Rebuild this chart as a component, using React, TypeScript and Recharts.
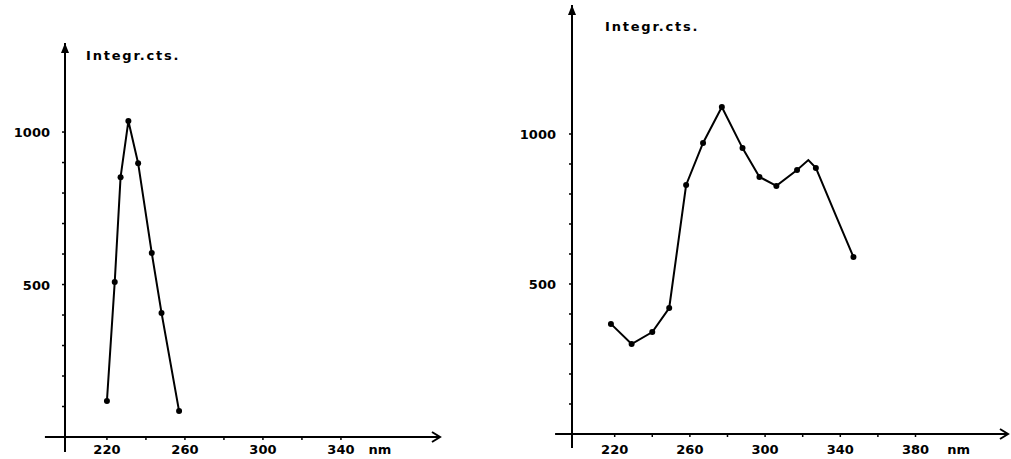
import React from 'react';
import { LineChart, Line, XAxis, YAxis, ReferenceLine, ReferenceDot } from 'recharts';

// left panel: excitation scan
const leftNm = [220, 224, 227, 231, 236, 243, 248, 257];
const leftCts = [118, 508, 852, 1036, 898, 603, 407, 85];
const leftXTicks = [220, 240, 260, 280, 300, 320, 340, 360];
const leftXLabels = [220, 260, 300, 340];
const leftUnitAt = 360;

// right panel: emission scan
const rightNm = [218, 229, 240, 249, 258, 267, 277, 288, 297, 306, 317, 323, 327, 338, 347];
const rightCts = [367, 300, 340, 420, 830, 970, 1090, 953, 857, 827, 880, 913, 887, 723, 590];
const rightDot = [1, 1, 1, 1, 1, 1, 1, 1, 1, 1, 1, 0, 1, 0, 1];
const rightXTicks = [220, 240, 260, 280, 300, 320, 340, 360, 380, 403];
const rightXLabels = [220, 260, 300, 340, 380];
const rightUnitAt = 403;

const yTicks = [100, 200, 300, 400, 500, 600, 700, 800, 900, 1000];
const yLabels = [500, 1000];

const FONT = '"DejaVu Sans", sans-serif';

const makeXTick = (labels: number[], unitAt: number, off: number) => (p: any) => {
  const v = p.payload.value;
  const txt = v === unitAt ? 'nm' : labels.includes(v) ? String(v) : '';
  return (
    <g>
      {v !== unitAt && <line x1={p.x} x2={p.x} y1={p.y - 1} y2={p.y + 3} stroke="#000" strokeWidth={1.5} />}
      <text x={p.x} y={p.y + off} textAnchor="middle" fontFamily={FONT} fontWeight="bold" fontSize={13} fill="#000">
        {txt}
      </text>
    </g>
  );
};

const makeYTick = (gap: number) => (p: any) => {
  const v = p.payload.value;
  return (
    <g>
      <line x1={p.x - 3} x2={p.x} y1={p.y} y2={p.y} stroke="#000" strokeWidth={1.5} />
      {yLabels.includes(v) && (
        <text x={p.x - gap} y={p.y + 5} textAnchor="end" fontFamily={FONT} fontWeight="bold" fontSize={13} fill="#000">
          {v}
        </text>
      )}
    </g>
  );
};

const arrowRight = (p: any) => (
  <path d={`M${p.cx - 8},${p.cy - 5} L${p.cx},${p.cy} L${p.cx - 8},${p.cy + 5}`} stroke="#000" strokeWidth={2} fill="none" />
);
const arrowUp = (p: any) => (
  <path d={`M${p.cx - 4},${p.cy + 10} L${p.cx},${p.cy} L${p.cx + 4},${p.cy + 10} Z`} fill="#000" />
);

const titleStyle: React.CSSProperties = {
  position: 'absolute',
  fontFamily: FONT,
  fontWeight: 'bold',
  fontSize: 13,
  letterSpacing: 1.8,
  color: '#000',
  lineHeight: '14px',
};

const App: React.FC = () => {
  const leftData = leftNm.map((nm, i) => ({ nm, cts: leftCts[i] }));
  const rightData = rightNm.map((nm, i) => ({ nm, cts: rightCts[i], mark: rightDot[i] }));

  const lx: [number, number] = [198.5, 390.8];
  const ly: [number, number] = [0, 1292];
  const rx: [number, number] = [197.3, 429.2];
  const ry: [number, number] = [0, 1430];

  return (
    <div style={{ position: 'absolute', left: 0, top: 0, width: 1011, height: 459, background: '#fff', overflow: 'hidden' }}>
      <div style={{ position: 'absolute', left: 0, top: 0 }}>
        <LineChart width={500} height={459} data={leftData} margin={{ top: 43, right: 60, bottom: 0, left: 0 }}>
          <XAxis
            dataKey="nm"
            type="number"
            domain={lx}
            allowDataOverflow
            ticks={leftXTicks}
            interval={0}
            height={22}
            tickSize={0}
            tickMargin={0}
            axisLine={{ stroke: '#000', strokeWidth: 2 }}
            tick={makeXTick(leftXLabels, leftUnitAt, 17)}
          />
          <YAxis
            type="number"
            domain={ly}
            allowDataOverflow
            ticks={yTicks}
            interval={0}
            width={65}
            tickSize={0}
            tickMargin={0}
            axisLine={{ stroke: '#000', strokeWidth: 2 }}
            tick={makeYTick(15)}
          />
          <ReferenceLine segment={[{ x: 188.2, y: 0 }, { x: lx[0], y: 0 }]} stroke="#000" strokeWidth={2} ifOverflow="visible" />
          <ReferenceLine segment={[{ x: lx[0], y: -49 }, { x: lx[0], y: 0 }]} stroke="#000" strokeWidth={2} ifOverflow="visible" />
          <ReferenceDot x={lx[1]} y={0} shape={arrowRight} ifOverflow="visible" />
          <ReferenceDot x={lx[0]} y={ly[1]} shape={arrowUp} ifOverflow="visible" />
          <Line
            type="linear"
            dataKey="cts"
            stroke="#000"
            strokeWidth={2}
            dot={{ r: 3, fill: '#000', stroke: '#000', strokeWidth: 0 }}
            isAnimationActive={false}
          />
        </LineChart>
      </div>
      <div style={{ ...titleStyle, left: 86, top: 49 }}>Integr.cts.</div>

      <div style={{ position: 'absolute', left: 505, top: 0 }}>
        <LineChart width={506} height={459} data={rightData} margin={{ top: 5, right: 3, bottom: 0, left: 0 }}>
          <XAxis
            dataKey="nm"
            type="number"
            domain={rx}
            allowDataOverflow
            ticks={rightXTicks}
            interval={0}
            height={25}
            tickSize={0}
            tickMargin={0}
            axisLine={{ stroke: '#000', strokeWidth: 2 }}
            tick={makeXTick(rightXLabels, rightUnitAt, 20)}
          />
          <YAxis
            type="number"
            domain={ry}
            allowDataOverflow
            ticks={yTicks}
            interval={0}
            width={67}
            tickSize={0}
            tickMargin={0}
            axisLine={{ stroke: '#000', strokeWidth: 2 }}
            tick={makeYTick(16)}
          />
          <ReferenceLine segment={[{ x: 188.3, y: 0 }, { x: rx[0], y: 0 }]} stroke="#000" strokeWidth={2} ifOverflow="visible" />
          <ReferenceLine segment={[{ x: rx[0], y: -47 }, { x: rx[0], y: 0 }]} stroke="#000" strokeWidth={2} ifOverflow="visible" />
          <ReferenceDot x={rx[1]} y={0} shape={arrowRight} ifOverflow="visible" />
          <ReferenceDot x={rx[0]} y={ry[1]} shape={arrowUp} ifOverflow="visible" />
          <Line
            type="linear"
            dataKey="cts"
            stroke="#000"
            strokeWidth={2}
            dot={(p: any) =>
              p.payload.mark ? (
                <circle key={`d${p.index}`} cx={p.cx} cy={p.cy} r={3} fill="#000" />
              ) : (
                <g key={`d${p.index}`} />
              )
            }
            isAnimationActive={false}
          />
        </LineChart>
      </div>
      <div style={{ ...titleStyle, left: 605, top: 20 }}>Integr.cts.</div>
    </div>
  );
};

export default App;
